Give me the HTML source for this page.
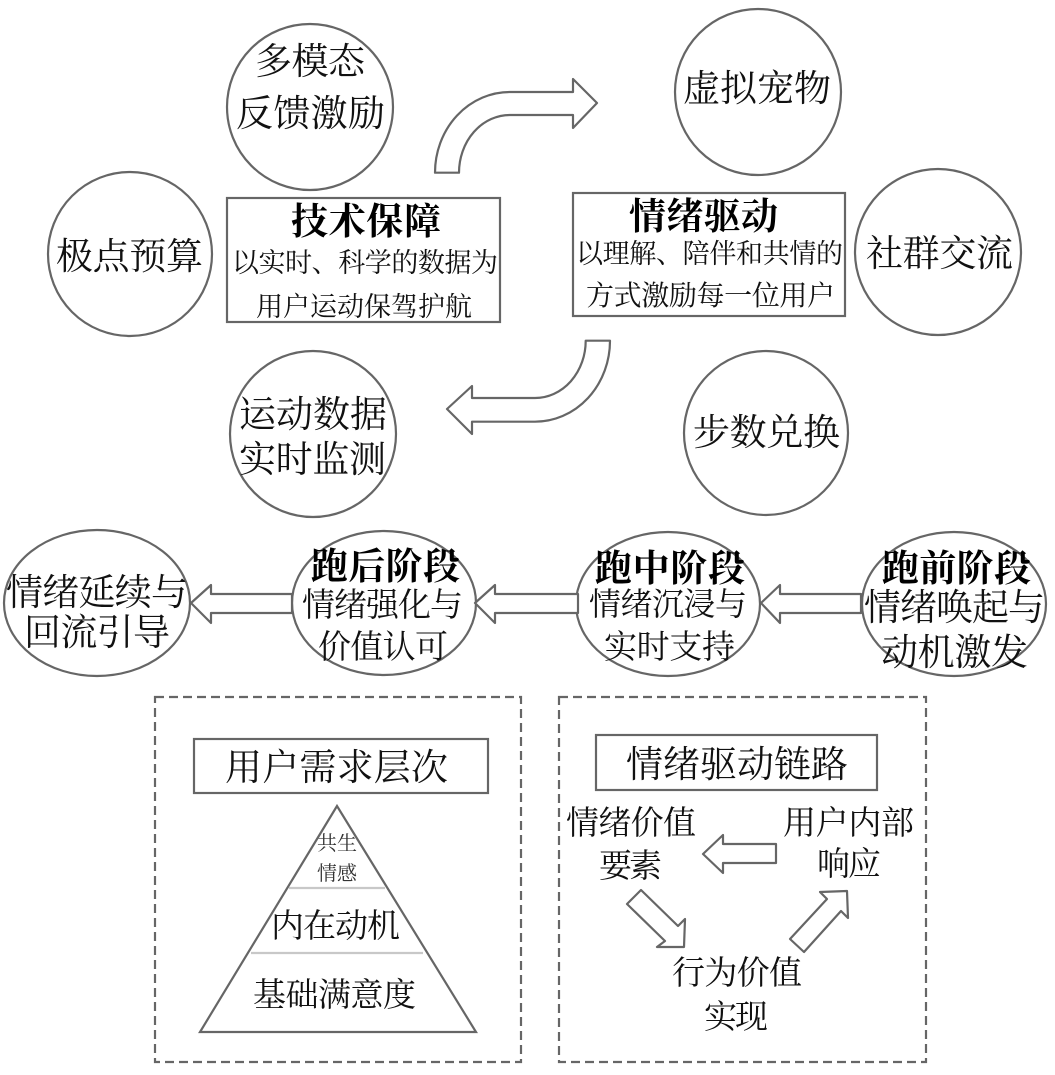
<!DOCTYPE html>
<html><head><meta charset="utf-8">
<style>
html,body{margin:0;padding:0;background:#fff;width:1055px;height:1075px;overflow:hidden}
svg{display:block;filter:blur(0.35px)}
text{font-family:"Liberation Serif","Noto Serif CJK SC",serif;fill:#111;font-size:37px}
.b{font-weight:700;fill:#000}
.s{fill:none;stroke:#666;stroke-width:2.2}
.a{fill:#fff;stroke:#666;stroke-width:2.2;stroke-linejoin:round}
</style></head><body>
<svg width="1055" height="1075" viewBox="0 0 1055 1075" xmlns="http://www.w3.org/2000/svg">
<g class="s">
<circle cx="310" cy="107" r="83"/>
<circle cx="758" cy="92" r="83"/>
<circle cx="130" cy="254" r="82"/>
<circle cx="938" cy="252" r="83"/>
<circle cx="313" cy="434" r="83"/>
<circle cx="766" cy="433" r="82"/>
<ellipse cx="954" cy="604" rx="92" ry="72"/>
<ellipse cx="668" cy="604" rx="92" ry="72"/>
<ellipse cx="384" cy="603" rx="92" ry="72"/>
<ellipse cx="97" cy="603" rx="93" ry="73"/>
<rect x="227" y="198" width="273" height="124"/>
<rect x="573" y="193" width="272" height="123"/>
<rect x="194" y="739" width="294" height="54"/>
<rect x="596" y="735" width="281" height="55"/>
<rect x="155" y="697" width="366" height="365" stroke-dasharray="9 5"/>
<rect x="559" y="697" width="367" height="365" stroke-dasharray="9 5"/>
<path d="M337 806L200 1032H476Z"/>
<path d="M289 888H385M251 953H423" style="stroke:#c8c8c8"/>
</g>
<g class="a">
<path d="M435 172.7A75 80.7 0 0 1 510 92H573V79L597 103L573 128V115H510A51 57.7 0 0 0 459 172.7Z"/>
<path d="M585.7 340.7H610A75 81 0 0 1 535 421.7H472V434L447 409L472 386V398H535A50.7 57.3 0 0 0 585.7 340.7Z"/>
<path d="M861 594H780V585L761 603L780 623V613H861Z"/>
<path d="M578 594H495V585L475 603L495 623V613H578Z"/>
<path d="M292 594H211V585L191 603L211 623V613H292Z"/>
<path d="M776 844H723V835L703 854L723 873V863H776Z"/>
<path d="M641 890L627 904L665 941L657 947H684L685 919L678 926Z"/>
<path d="M790 939L804 952L841 911L848 918L847 891L820 892L827 899Z"/>
</g>
<text x="255" y="74" textLength="110">多模态</text>
<text x="236" y="126" textLength="149">反馈激励</text>
<text x="683" y="101" textLength="148">虚拟宠物</text>
<text x="56" y="269" textLength="147">极点预算</text>
<text x="866" y="266" textLength="147">社群交流</text>
<text class="b" x="291" y="234" textLength="150">技术保障</text>
<text x="232" y="272" textLength="266" style="font-size:27px">以实时、科学的数据为</text>
<text x="256" y="316" textLength="216" style="font-size:27px">用户运动保驾护航</text>
<text class="b" x="629" y="229" textLength="149">情绪驱动</text>
<text x="576" y="263" textLength="267" style="font-size:27px">以理解、陪伴和共情的</text>
<text x="586" y="305" textLength="249" style="font-size:28px">方式激励每一位用户</text>
<text x="239" y="427" textLength="148">运动数据</text>
<text x="239" y="472" textLength="147">实时监测</text>
<text x="693" y="445" textLength="147">步数兑换</text>
<text class="b" x="882" y="581" textLength="149">跑前阶段</text>
<text x="864" y="620" textLength="181">情绪唤起与</text>
<text x="881" y="665" textLength="147">动机激发</text>
<text class="b" x="595" y="581" textLength="150">跑中阶段</text>
<text x="589" y="615" textLength="158" style="font-size:32px">情绪沉浸与</text>
<text x="604" y="658" textLength="131" style="font-size:33px">实时支持</text>
<text class="b" x="311" y="579" textLength="149">跑后阶段</text>
<text x="302" y="616" textLength="161" style="font-size:33px">情绪强化与</text>
<text x="318" y="658" textLength="130" style="font-size:33px">价值认可</text>
<text x="6" y="605" textLength="182">情绪延续与</text>
<text x="24" y="645" textLength="146">回流引导</text>
<text x="225" y="780" textLength="223">用户需求层次</text>
<text x="626" y="777" textLength="222">情绪驱动链路</text>
<text x="566" y="834" textLength="130" style="font-size:33px">情绪价值</text>
<text x="599" y="877" textLength="63" style="font-size:33px">要素</text>
<text x="783" y="834" textLength="131" style="font-size:33px">用户内部</text>
<text x="817" y="875" textLength="64" style="font-size:33px">响应</text>
<text x="672" y="984" textLength="130" style="font-size:33px">行为价值</text>
<text x="704" y="1028" textLength="64" style="font-size:33px">实现</text>
<text x="317" y="850" textLength="40" style="font-size:20px;fill:#333">共生</text>
<text x="317" y="880" textLength="40" style="font-size:20px;fill:#333">情感</text>
<text x="271" y="937" textLength="129" style="font-size:33px">内在动机</text>
<text x="253" y="1006" textLength="163" style="font-size:33px">基础满意度</text>
</svg>
</body></html>
